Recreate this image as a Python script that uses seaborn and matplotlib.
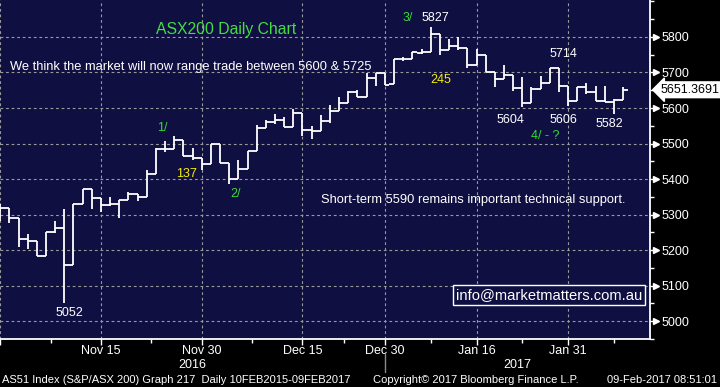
import numpy as np
import pandas as pd
import seaborn as sns
import matplotlib
import matplotlib.pyplot as plt

matplotlib.use('Agg')

# ASX200 daily OHLC, 31 Oct 2016 - 08 Feb 2017
opens = [5290, 5318, 5291, 5231, 5227, 5183, 5252, 5261, 5159, 5329,
         5371, 5346, 5327, 5329, 5340, 5357, 5349, 5415, 5486, 5486,
         5509, 5465, 5459, 5442, 5500, 5445, 5401, 5429, 5478, 5545,
         5562, 5565, 5547, 5586, 5539, 5534, 5564, 5591, 5613, 5645,
         5630, 5685, 5699, 5669, 5737, 5737, 5754, 5757, 5809, 5762,
         5774, 5768, 5722, 5749, 5702, 5681, 5693, 5655, 5613, 5653,
         5671, 5714, 5663, 5621, 5658, 5645, 5621, 5616, 5622]
highs = [5329, 5318, 5291, 5245, 5227, 5252, 5283, 5316, 5329, 5371,
         5371, 5346, 5350, 5340, 5365, 5357, 5427, 5488, 5507, 5522,
         5509, 5487, 5459, 5499, 5500, 5445, 5453, 5478, 5553, 5567,
         5584, 5576, 5597, 5586, 5550, 5580, 5608, 5630, 5647, 5651,
         5699, 5699, 5699, 5737, 5743, 5759, 5766, 5827, 5809, 5794,
         5801, 5768, 5766, 5749, 5702, 5722, 5693, 5688, 5658, 5690,
         5714, 5714, 5663, 5658, 5670, 5663, 5662, 5625, 5658]
lows = [5283, 5277, 5210, 5203, 5183, 5183, 5247, 5052, 5159, 5329,
        5317, 5306, 5323, 5290, 5340, 5337, 5349, 5415, 5476, 5486,
        5465, 5455, 5426, 5442, 5444, 5386, 5401, 5429, 5478, 5545,
        5555, 5547, 5547, 5522, 5513, 5534, 5559, 5591, 5613, 5630,
        5630, 5661, 5665, 5669, 5732, 5737, 5752, 5757, 5750, 5762,
        5762, 5713, 5720, 5702, 5660, 5681, 5649, 5604, 5613, 5653,
        5671, 5645, 5606, 5621, 5640, 5621, 5616, 5582, 5622]
closes = [5318, 5291, 5231, 5227, 5183, 5252, 5261, 5159, 5329, 5371,
          5346, 5327, 5329, 5340, 5357, 5349, 5415, 5486, 5486, 5509,
          5465, 5459, 5442, 5499, 5444, 5401, 5429, 5478, 5545, 5562,
          5565, 5547, 5586, 5539, 5534, 5564, 5591, 5613, 5645, 5630,
          5685, 5699, 5665, 5737, 5737, 5757, 5757, 5809, 5762, 5774,
          5768, 5722, 5749, 5702, 5681, 5693, 5655, 5613, 5653, 5671,
          5714, 5663, 5621, 5658, 5645, 5621, 5616, 5623, 5651.3691]

holidays = ['2016-12-26', '2016-12-27', '2017-01-02', '2017-01-26']
tick_dates = ['2016-10-31', '2016-11-15', '2016-11-30', '2016-12-15',
              '2016-12-30', '2017-01-16', '2017-01-31']
tick_labels = ['', 'Nov 15', 'Nov 30', 'Dec 15', 'Dec 30', 'Jan 16', 'Jan 31']

# chart notes: (text, bar position, level, colour)
notes = [
    ('5052', 7.6, 5024, 'white'),
    ('1/', 17.7, 5543, '#33dd33'),
    ('137', 20.3, 5414, '#f5f000'),
    ('2/', 25.7, 5359, '#33dd33'),
    ('3/', 44.5, 5852, '#33dd33'),
    ('5827', 47.5, 5852, 'white'),
    ('245', 48.1, 5680, '#f5f000'),
    ('5714', 61.5, 5752, 'white'),
    ('5604', 55.7, 5567, 'white'),
    ('5606', 61.5, 5567, 'white'),
    ('5582', 66.5, 5554, 'white'),
    ('4/ - ?', 59.5, 5522, '#33dd33'),
]

days = pd.bdate_range('2016-10-31', '2017-02-08')
days = days[~days.isin(pd.to_datetime(holidays))]
df = pd.DataFrame({'date': days, 'open': opens, 'high': highs,
                   'low': lows, 'close': closes})
df['x'] = np.arange(len(df))

navy = '#100f42'
sns.set_style('dark', rc={'axes.facecolor': navy, 'figure.facecolor': 'black',
                          'axes.edgecolor': 'white', 'text.color': 'white',
                          'xtick.color': 'white', 'ytick.color': 'white'})
plt.rcParams['font.family'] = ['Liberation Sans', 'DejaVu Sans']

fig = plt.figure(figsize=(7.2, 3.87), dpi=100)
ax = fig.add_axes([0, 48 / 387, 650 / 720, 339 / 387])

ax.vlines(df['x'], df['low'], df['high'], color='white', lw=1.3)
ax.hlines(df['open'], df['x'] - 0.5, df['x'], color='white', lw=1.3)
ax.hlines(df['close'], df['x'], df['x'] + 0.5, color='white', lw=1.3)

ax.set_xlim(-0.02, 70.94)
ax.set_ylim(4969, 5904)

tick_pos = [int(df.index[df['date'] == pd.Timestamp(d)][0]) for d in tick_dates]
ax.set_xticks(tick_pos)
ax.set_xticklabels(tick_labels, fontsize=9)
minor_x = [(a + b) / 2 for a, b in zip(tick_pos[:-1], tick_pos[1:])] + [tick_pos[-1] + 5]
ax.set_xticks(minor_x, minor=True)

yt = np.arange(5000, 5801, 100)
ax.set_yticks(yt)
ax.set_yticks(np.arange(4950, 5901, 50), minor=True)
ax.yaxis.tick_right()
ax.tick_params(axis='y', which='major', length=4.5, width=1, pad=3.5, labelsize=9,
               right=True, left=False)
ax.tick_params(axis='y', which='minor', length=3, width=1, right=True, left=False)
ax.tick_params(axis='x', which='major', length=4.5, width=1, pad=0, bottom=True)
ax.tick_params(axis='x', which='minor', length=3, width=1, bottom=True)
ax.plot(np.full(len(yt), 1 + 6 / 650), yt, ls='none', marker='>', ms=4.5,
        color='white', transform=ax.get_yaxis_transform(), clip_on=False)

ax.grid(True, which='major', color='#9a9a9a', lw=0.8, ls=(0, (2.5, 2.5)))
for s in ['left', 'top']:
    ax.spines[s].set_visible(False)
for s in ['right', 'bottom']:
    ax.spines[s].set_color('white')
    ax.spines[s].set_linewidth(1.3)

# last price box
ax.text(1 + 11 / 650, df['close'].iloc[-1], f"{df['close'].iloc[-1]:.4f}",
        transform=ax.get_yaxis_transform(), color='black', fontsize=9,
        va='center', ha='left',
        bbox=dict(boxstyle='larrow,pad=0.15', fc='white', ec='white'))

# year labels and separator
xt = ax.get_xaxis_transform()
year_split = tick_pos[4]
ax.plot([year_split, year_split], [-0.045, -0.097], color='#8a8a8a', lw=1,
        transform=xt, clip_on=False)
ax.text((ax.get_xlim()[0] + year_split) / 2, -0.077, '2016', transform=xt,
        ha='center', va='center', fontsize=9)
ax.text((year_split + ax.get_xlim()[1]) / 2, -0.077, '2017', transform=xt,
        ha='center', va='center', fontsize=9)

for txt, xx, yy, col in notes:
    ax.text(xx, yy, txt, color=col, fontsize=9, ha='center', va='center')

ax.text(24.7, 5821, 'ASX200 Daily Chart', color='#44dd44', fontsize=11.3,
        ha='center', va='center')
ax.text(1.07, 5716, 'We think the market will now range trade between 5600 & 5725',
        color='white', fontsize=9.3, ha='left', va='center')
ax.text(35.0, 5341, 'Short-term 5590 remains important technical support.',
        color='white', fontsize=9.3, ha='left', va='center')
ax.text(59.9, 5075, 'info@marketmatters.com.au', color='white', fontsize=10.6,
        ha='center', va='center',
        bbox=dict(boxstyle='square,pad=0.2', fc=navy, ec='white', lw=1))

fy = 7 / 387
fig.text(2 / 720, fy, 'AS51 Index (S&P/ASX 200) Graph 217  Daily 10FEB2015-09FEB2017',
         fontsize=8, ha='left', va='center', color='white')
fig.text(373 / 720, fy, 'Copyright\u00a9 2017 Bloomberg Finance L.P.',
         fontsize=8, ha='left', va='center', color='white')
fig.text(717 / 720, fy, '09-Feb-2017 08:51:01', fontsize=8, ha='right',
         va='center', color='white')

fig.savefig('out.png', dpi=100, facecolor='black')
